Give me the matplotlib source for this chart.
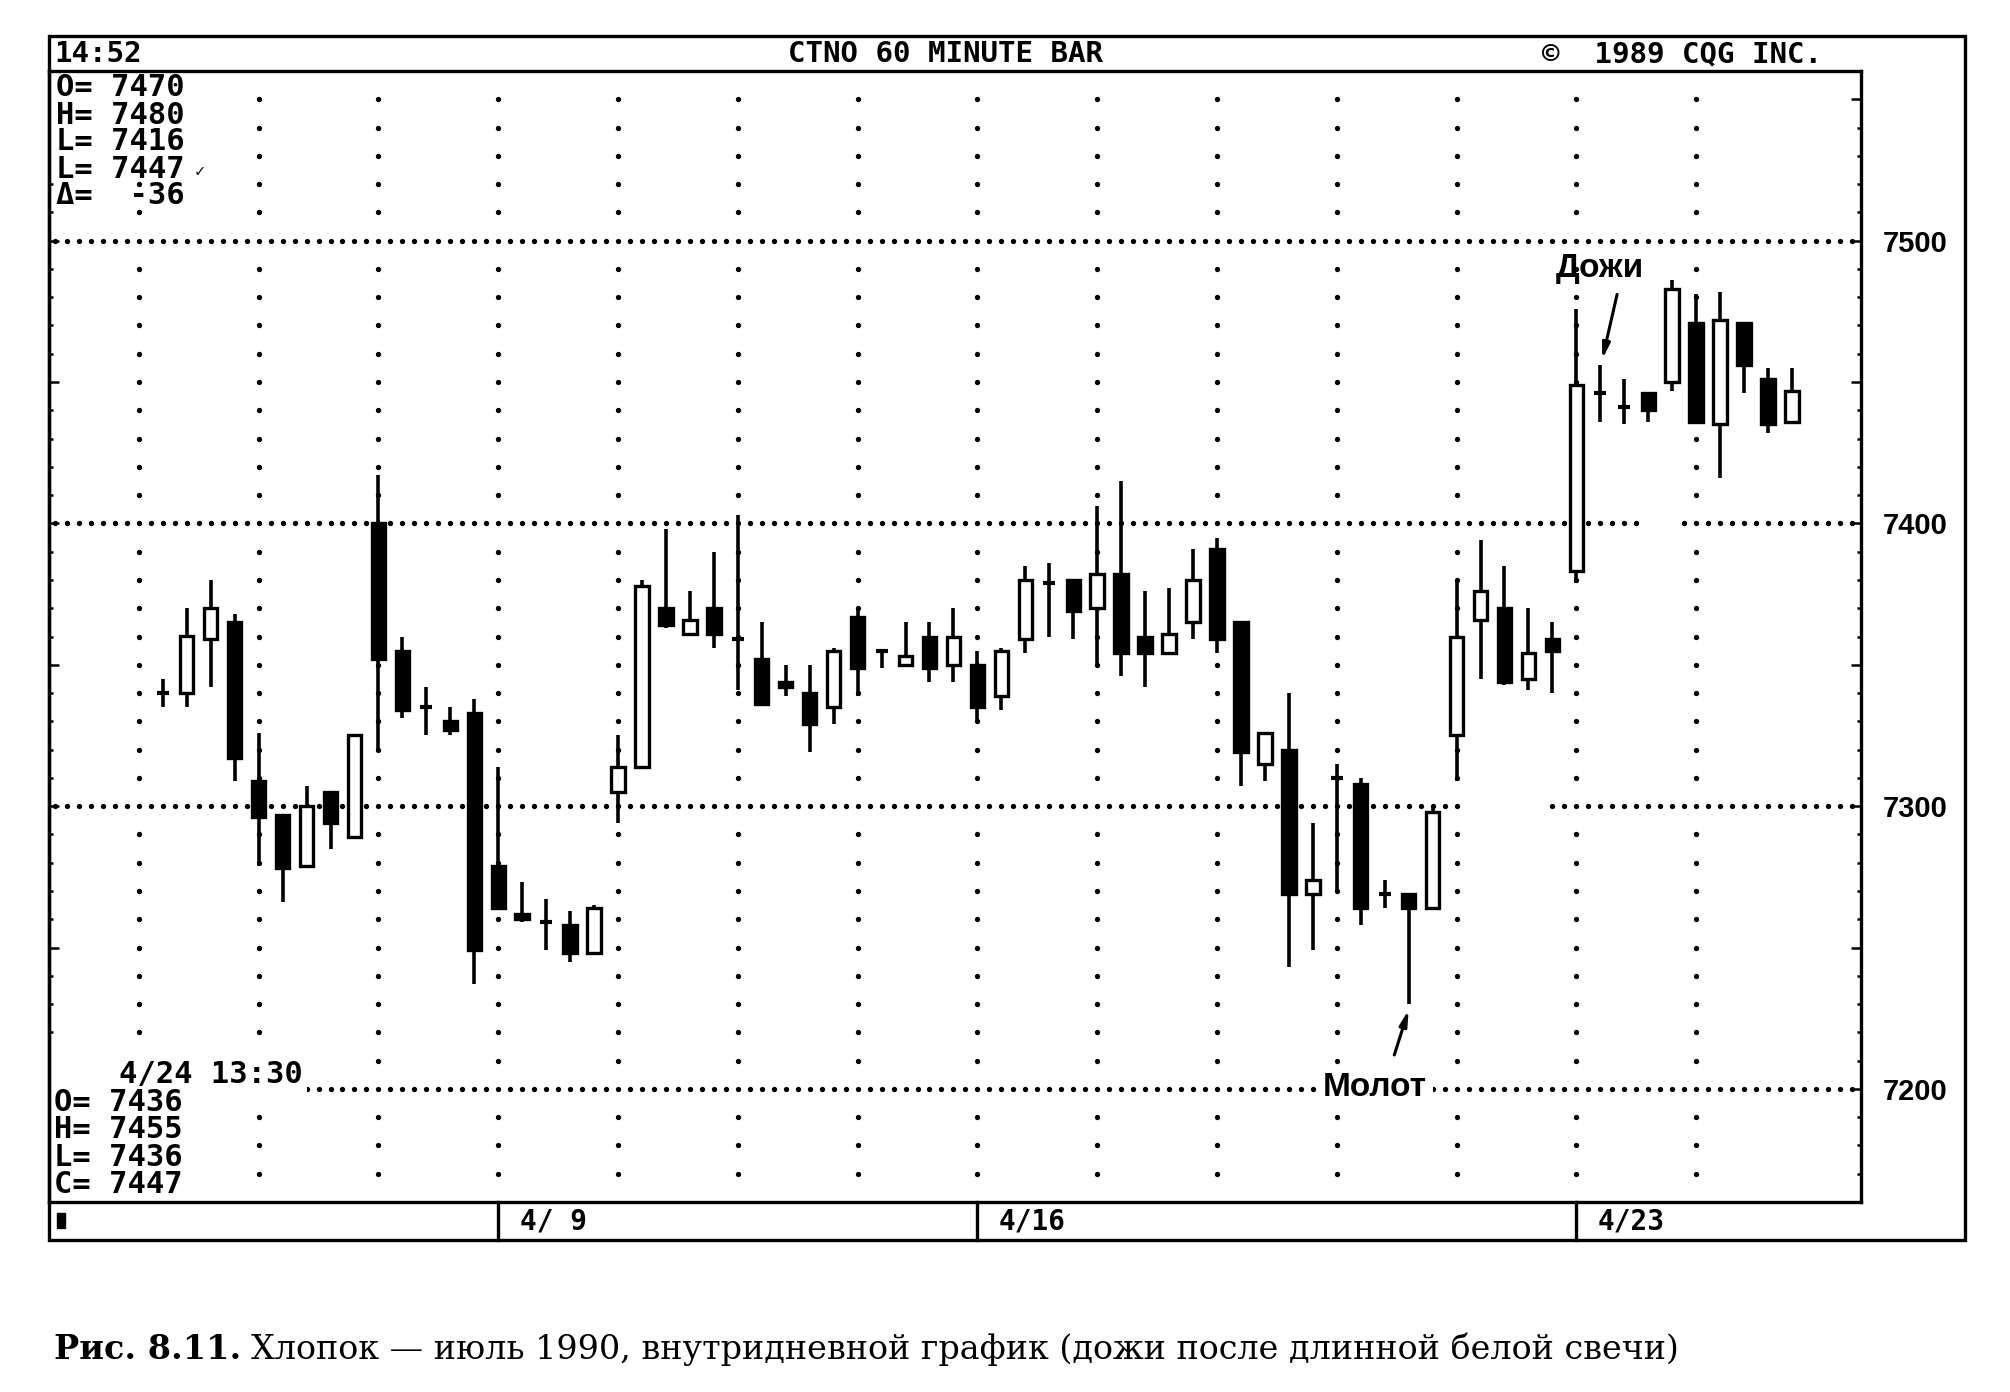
import numpy as np
import matplotlib
matplotlib.use("Agg")
import matplotlib.pyplot as plt
from matplotlib.patches import Rectangle
from matplotlib.ticker import MultipleLocator, FuncFormatter

# CTNO 60 minute bars (хлопок, июль 1990)
opens = [7340, 7340, 7359, 7365, 7309, 7297, 7279, 7305, 7289, 7400,
         7355, 7335, 7330, 7333, 7279, 7262, 7259, 7258, 7248, 7305,
         7314, 7370, 7361, 7370, 7359, 7352, 7344, 7340, 7335, 7367,
         7355, 7350, 7360, 7350, 7350, 7339, 7359, 7379, 7380, 7370,
         7382, 7360, 7354, 7365, 7391, 7365, 7315, 7320, 7269, 7310,
         7308, 7269, 7269, 7264, 7325, 7366, 7370, 7345, 7359, 7383,
         7446, 7441, 7446, 7450, 7471, 7435, 7471, 7451, 7436]
highs = [7345, 7370, 7380, 7368, 7326, 7297, 7307, 7305, 7325, 7417,
         7360, 7342, 7335, 7338, 7314, 7273, 7267, 7263, 7265, 7325,
         7380, 7398, 7376, 7390, 7403, 7365, 7350, 7350, 7356, 7370,
         7355, 7365, 7365, 7370, 7355, 7356, 7385, 7386, 7380, 7406,
         7415, 7376, 7377, 7391, 7395, 7365, 7326, 7340, 7294, 7315,
         7310, 7274, 7269, 7300, 7380, 7394, 7385, 7370, 7365, 7476,
         7456, 7451, 7446, 7486, 7481, 7482, 7471, 7455, 7455]
lows = [7335, 7335, 7342, 7309, 7279, 7266, 7278, 7285, 7289, 7319,
        7331, 7325, 7325, 7237, 7264, 7259, 7249, 7245, 7248, 7294,
        7314, 7363, 7361, 7356, 7341, 7336, 7339, 7319, 7329, 7339,
        7349, 7350, 7344, 7344, 7330, 7334, 7354, 7360, 7359, 7350,
        7346, 7342, 7354, 7359, 7354, 7307, 7309, 7243, 7249, 7270,
        7258, 7264, 7230, 7264, 7309, 7345, 7343, 7341, 7340, 7379,
        7436, 7435, 7436, 7447, 7436, 7416, 7446, 7432, 7436]
closes = [7341, 7360, 7370, 7317, 7296, 7278, 7300, 7294, 7325, 7352,
          7334, 7334, 7327, 7249, 7264, 7260, 7258, 7248, 7264, 7314,
          7378, 7364, 7366, 7361, 7358, 7336, 7342, 7329, 7355, 7349,
          7355, 7353, 7349, 7360, 7335, 7355, 7380, 7380, 7369, 7382,
          7354, 7354, 7361, 7380, 7359, 7319, 7326, 7269, 7274, 7309,
          7264, 7268, 7264, 7298, 7360, 7376, 7344, 7354, 7355, 7449,
          7446, 7440, 7440, 7483, 7436, 7472, 7456, 7435, 7447]

day_starts = [15, 35, 60]
day_labels = ["4/ 9", "4/16", "4/23"]
price_ticks = [7200, 7300, 7400, 7500]

top_info = ["O= 7470", "H= 7480", "L= 7416", "L= 7447", "\u0394=  -36"]
last_bar = "4/24 13:30"
last_info = ["O= 7436", "H= 7455", "L= 7436", "C= 7447"]

W, H = 2010, 1392
MONO = ["DejaVu Sans Mono", "DejaVu Sans"]


def fx(x):
    return x / W


def fy(y):
    return 1 - y / H


fig = plt.figure(figsize=(W / 100, H / 100), dpi=100)
ax = fig.add_axes([fx(49), fy(1202), fx(1861) - fx(49), fy(71) - fy(1202)])
ax.set_xlim(-3.75, 71.88)
ax.set_ylim(7160, 7560)

# точечная сетка
gaps = [(7300, 55.3, 58.8), (7400, 62.6, 64.5)]
gx = np.arange(-3.5, 71.6, 0.5)
for level in price_ticks:
    xs = [x for x in gx if not any(lv == level and a < x < b for lv, a, b in gaps)]
    ax.plot(xs, [level] * len(xs), ls="none", marker="o", ms=2.8,
            color="black", zorder=1)
gy = np.arange(7170, 7551, 10)
gy = gy[gy % 100 != 0]
for c in range(0, 66, 5):
    ax.plot([c] * len(gy), gy, ls="none", marker="o", ms=2.8,
            color="black", zorder=1)

# свечи
w = 0.56
for i in range(len(opens)):
    x = i + 1
    o, h, l, c = opens[i], highs[i], lows[i], closes[i]
    ax.plot([x, x], [l, h], color="black", lw=2.6, zorder=3,
            solid_capstyle="butt")
    if abs(c - o) <= 1:
        ax.plot([x - w * 0.45, x + w * 0.45], [o, o], color="black",
                lw=3.0, zorder=4, solid_capstyle="butt")
    else:
        face = "white" if c > o else "black"
        ax.add_patch(Rectangle((x - w / 2, min(o, c)), w, abs(c - o),
                               facecolor=face, edgecolor="black",
                               lw=2.4, zorder=4))

# подписи
ax.text(60.98, 7490, "Дожи", family="Liberation Sans", fontsize=24,
        fontweight="bold", ha="center", va="center", zorder=6)
ax.annotate("", xy=(61.08, 7458), xytext=(61.7, 7481),
            arrowprops=dict(arrowstyle="-|>,head_length=0.9,head_width=0.22",
                            lw=2.2, color="black", shrinkA=0, shrinkB=0),
            zorder=6)
ax.text(51.6, 7200.5, "Молот", family="Liberation Sans", fontsize=24,
        fontweight="bold", ha="center", va="center", zorder=6,
        bbox=dict(facecolor="white", edgecolor="none", pad=4))
ax.annotate("", xy=(53.0, 7228), xytext=(52.4, 7212),
            arrowprops=dict(arrowstyle="-|>,head_length=0.9,head_width=0.22",
                            lw=2.2, color="black", shrinkA=0, shrinkB=0),
            zorder=6)

# оси
for s in ax.spines.values():
    s.set_linewidth(2.4)
ax.set_xticks([])
ax.yaxis.set_major_locator(MultipleLocator(50))
ax.yaxis.set_minor_locator(MultipleLocator(10))
ax.yaxis.set_major_formatter(
    FuncFormatter(lambda v, p: f"{v:.0f}" if round(v) in price_ticks else ""))
ax.tick_params(axis="y", which="both", direction="in", left=True, right=True,
               labelleft=False, labelright=True, width=1.8)
ax.tick_params(axis="y", which="major", length=7, labelsize=21, pad=16,
               labelfontfamily="Liberation Sans")
ax.tick_params(axis="y", which="minor", length=3)
for lab in ax.get_yticklabels():
    lab.set_fontweight("bold")

# полоса дат
for d, lab in zip(day_starts, day_labels):
    ax.plot([d, d], [-0.0336, 0], transform=ax.get_xaxis_transform(),
            clip_on=False, color="black", lw=2.4)
    ax.text(d + 0.9, -0.0168, lab, transform=ax.get_xaxis_transform(),
            family=MONO, fontsize=20, fontweight="bold", ha="left", va="center")
fig.add_artist(Rectangle((fx(57), fy(1228)), fx(65) - fx(57), fy(1213) - fy(1228),
                         transform=fig.transFigure, color="black"))

# рамка
fig.add_artist(Rectangle((fx(49), fy(1240)), fx(1965) - fx(49), fy(36) - fy(1240),
                         transform=fig.transFigure, fill=False, lw=2.4,
                         ec="black"))

# шапка
fig.text(fx(54), fy(54), "14:52", family=MONO, fontsize=21, fontweight="bold",
         va="center")
fig.text(fx(945), fy(54), "CTNO 60 MINUTE BAR", family=MONO, fontsize=21,
         fontweight="bold", ha="center", va="center")
fig.text(fx(1542), fy(54), "\u00a9  1989 CQG INC.", family=MONO, fontsize=21,
         fontweight="bold", va="center")

# блок значений сверху слева
ax.add_patch(Rectangle((fx(51), fy(176)), fx(192) - fx(51), fy(73) - fy(176),
                       transform=fig.transFigure, facecolor="white",
                       edgecolor="none", zorder=2.2))
for k, line in enumerate(top_info):
    fig.text(fx(56), fy(88 + 27 * k), line, family=MONO, fontsize=22,
             fontweight="bold", va="center")
fig.text(fx(195), fy(172), "\u2713", family=MONO, fontsize=12, va="center")

# блок последнего бара снизу слева
ax.add_patch(Rectangle((fx(51), fy(1200)), fx(194) - fx(51), fy(1058) - fy(1200),
                       transform=fig.transFigure, facecolor="white",
                       edgecolor="none", zorder=2.2))
fig.text(fx(119), fy(1074), last_bar, family=MONO, fontsize=22,
         fontweight="bold", va="center",
         bbox=dict(facecolor="white", edgecolor="none", pad=3))
for k, line in enumerate(last_info):
    fig.text(fx(54), fy(1102.5 + 27.3 * k), line, family=MONO, fontsize=22,
             fontweight="bold", va="center")

# подпись к рисунку
t1 = fig.text(fx(54), fy(1359), "Рис. 8.11.", family="DejaVu Serif",
              fontweight="bold", fontsize=24, va="baseline")
fig.canvas.draw()
bb = t1.get_window_extent()
fig.text(bb.x1 / W + fx(10), fy(1359),
         "Хлопок — июль 1990, внутридневной график (дожи после длинной белой свечи)",
         family="DejaVu Serif", fontsize=24, va="baseline")

fig.savefig("out.png", dpi=100, facecolor="white")
